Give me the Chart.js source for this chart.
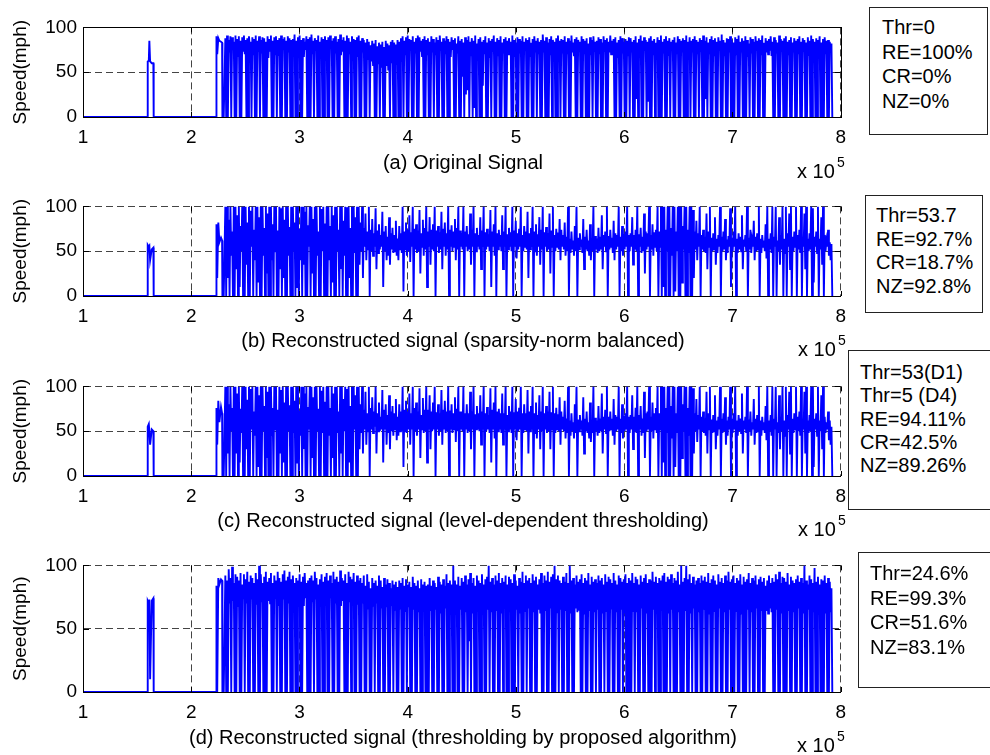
<!DOCTYPE html>
<html>
<head>
<meta charset="utf-8">
<script src="https://cdn.jsdelivr.net/npm/chart.js@4/dist/chart.umd.min.js"></script>
<style>
  html, body { margin: 0; padding: 0; background: #fff; }
  body { width: 990px; height: 755px; position: relative; overflow: hidden;
         font-family: "Liberation Sans", Arial, sans-serif; color: #000; }
  canvas { position: absolute; left: 0; }
  .cap { position: absolute; font-size: 20px; line-height: 20px; white-space: nowrap; transform: translateX(-50%); }
  .mult { position: absolute; font-size: 20px; line-height: 20px; white-space: nowrap; }
  .mult span { position: absolute; font-size: 14px; line-height: 14px; }
  .box { position: absolute; border: 1px solid #222; background: #fff; box-sizing: border-box; }
  .box div { position: absolute; font-size: 20px; line-height: 20px; white-space: nowrap; }
</style>
</head>
<body>
<canvas id="pa"></canvas>
<canvas id="pb"></canvas>
<canvas id="pc"></canvas>
<canvas id="pd"></canvas>
<script>
// ---- axis ticks ----
const xTickValues = [1, 2, 3, 4, 5, 6, 7, 8];   // time, x 10^5
const yTickValues = [0, 50, 100];               // speed (mph)

// ---- sparse lead-in section (time in units of 10^5) ----
const leadTimes = [1.0, 1.595, 1.598, 1.608, 1.613, 1.62, 1.635, 1.65, 1.653,
                   2.23, 2.233, 2.24, 2.25, 2.26, 2.275, 2.285, 2.288, 2.30];
const leadA = [0, 0, 62, 63, 85, 62, 60, 60, 0, 0, 90, 70, 88, 85, 84, 83, 0, 0];
const leadB = [0, 0, 57, 55, 56, 40, 52, 54, 0, 0, 80, 20, 82, 60, 65, 62, 0, 0];
const leadC = [0, 0, 55, 58, 50, 35, 52, 50, 0, 0, 76, 35, 84, 60, 77, 70, 0, 0];
const leadD = [0, 0, 72, 70, 73, 10, 72, 74, 0, 0, 84, 0, 90, 85, 89, 88, 0, 0];

// ---- dense section: successive highs and lows of each record ----
const denseStart = 2.315;
const denseEnd = 7.93;

const peaksA = [
  88,91,86,90,89,84,91,87,90,85,89,91,86,88,90,84,89,87,91,85,
  90,86,89,88,84,90,87,91,85,89,90,86,88,91,87,89,85,90,88,86,
  87,92,85,89,91,86,88,84,90,87,89,92,85,88,86,91,84,89,87,90,
  86,89,91,85,88,90,84,87,92,86,89,85,91,88,84,90,87,86,89,91,
  85,88,86,83,87,84,80,85,82,86,79,83,81,84,78,85,82,80,84,86,
  83,81,86,84,88,90,85,89,91,87,86,90,84,88,91,89,85,87,90,86,
  88,84,90,87,83,89,86,91,84,88,85,90,87,84,89,86,88,82,90,85,
  87,83,89,86,90,84,88,85,91,82,87,89,84,86,90,83,88,85,87,91,
  84,88,86,90,83,87,89,85,88,84,91,86,83,89,87,85,90,84,88,86,
  89,83,87,90,85,88,84,86,92,85,89,83,87,90,86,84,88,91,85,87,
  86,90,84,88,85,91,83,87,89,86,84,90,87,85,88,82,89,86,90,84,
  85,89,87,83,90,86,88,84,91,85,87,89,83,86,90,88,84,87,85,89,
  88,84,86,90,83,87,91,85,89,86,84,88,90,85,87,83,89,86,91,84,
  87,90,85,88,84,86,89,83,90,87,85,88,86,91,84,89,85,87,90,86,
  84,88,86,91,85,89,83,87,90,86,88,84,89,85,92,86,83,88,87,90,
  86,83,89,87,91,84,88,85,90,86,82,89,87,84,90,85,88,86,91,83,
  88,85,87,90,84,89,86,83,91,87,85,88,90,84,86,89,83,88,85,87,
  90,84,88,86,83,89,85,91,87,84,88,86,90,83,87,89,85,86,84,82];
const troughsA = [
  0,0,72,0,75,0,0,68,0,0,74,70,0,0,76,0,69,0,0,73,
  0,71,0,0,0,66,74,0,0,70,0,68,0,0,75,0,0,72,0,0,
  69,0,0,73,0,0,67,75,0,0,0,70,0,74,0,0,68,0,0,72,
  0,0,76,0,0,71,0,0,69,73,0,0,0,70,0,75,0,0,67,0,
  0,72,0,0,65,0,62,58,0,0,60,0,55,0,0,57,52,0,60,0,
  0,58,0,0,62,0,70,0,0,74,0,0,71,0,0,73,68,0,0,70,
  0,0,72,0,69,0,0,74,0,0,70,0,0,67,75,0,0,71,0,0,
  45,0,25,30,0,68,0,10,0,72,0,0,35,70,0,0,66,0,73,0,
  0,69,0,0,72,0,0,70,74,0,0,67,0,0,71,0,0,75,0,0,
  68,0,0,73,0,70,0,0,72,0,0,0,69,0,74,0,0,66,0,71,
  0,0,70,0,0,72,68,0,0,74,0,0,71,0,0,0,69,0,73,0,
  0,70,0,0,73,0,0,72,70,74,0,0,66,0,0,71,0,0,69,0,
  72,0,0,20,0,70,0,0,74,0,17,0,0,69,0,72,0,0,0,71,
  0,0,68,0,74,0,0,70,0,0,73,0,0,0,67,0,72,0,0,70,
  0,73,0,0,20,0,71,0,0,69,0,0,74,0,0,68,0,0,72,0,
  0,0,70,0,0,73,0,0,0,67,0,71,0,0,74,0,0,69,0,0,
  72,70,74,68,0,0,71,0,0,73,0,0,0,69,0,0,72,0,0,70,
  0,0,73,0,0,68,0,0,71,0,0,74,0,0,0,70,0,0,72,0];

const peaksB = [
  100,100,85,100,72,100,100,90,100,78,100,100,100,82,100,95,100,74,100,100,
  88,100,100,76,100,92,100,100,80,100,100,73,100,98,100,85,100,100,77,100,
  100,82,100,100,75,100,100,94,100,79,100,100,86,100,100,72,100,97,100,81,
  100,100,78,100,90,100,100,74,100,100,84,100,99,100,76,100,100,88,100,100,
  82,100,76,92,72,100,74,86,70,98,73,80,68,94,72,78,66,88,70,76,
  68,84,64,78,70,100,72,82,74,90,71,100,75,80,73,96,70,85,76,100,
  72,88,74,80,100,73,78,71,94,75,82,70,100,74,79,72,86,76,100,73,
  70,100,72,78,69,92,74,100,70,76,68,88,73,100,71,75,69,96,72,80,
  100,70,74,68,90,72,100,69,76,71,100,73,84,70,75,100,68,78,72,94,
  70,76,100,72,80,69,88,74,100,71,77,70,92,73,100,68,75,71,86,74,
  68,82,66,100,64,72,62,78,100,65,70,63,86,66,74,62,80,64,100,67,
  64,76,66,90,68,72,100,67,74,65,84,70,68,100,66,78,69,72,100,68,
  70,88,68,74,100,69,76,66,92,72,70,100,68,80,71,74,100,72,100,100,
  100,74,100,100,76,100,100,72,100,100,100,78,100,100,74,100,100,96,72,84,
  70,100,68,74,66,92,72,100,65,70,88,64,68,100,66,72,86,63,67,98,
  65,72,100,64,70,66,90,63,68,100,65,74,62,84,66,70,100,64,68,62,
  80,100,64,70,100,66,100,62,88,68,100,64,100,70,92,100,66,72,100,68,
  74,100,66,92,100,64,70,100,98,66,72,100,64,88,100,68,62,74,60,58];
const troughsB = [
  0,20,0,45,0,0,30,0,10,50,0,0,35,0,0,55,0,40,0,15,
  0,0,45,0,25,0,0,40,0,50,0,0,30,0,20,0,0,45,0,0,
  50,0,10,0,40,0,35,0,0,55,0,25,0,0,45,0,0,50,0,0,
  0,40,0,15,0,0,50,0,30,0,45,0,0,20,0,0,48,0,0,35,
  50,20,55,40,52,0,50,45,55,30,48,52,55,10,50,40,45,35,52,48,
  50,45,40,52,48,5,52,45,50,38,55,0,52,48,50,25,55,45,52,10,
  55,35,52,50,0,55,48,52,30,55,45,52,0,55,50,55,40,52,0,55,
  52,0,55,50,52,35,55,0,50,55,52,30,55,0,52,55,50,10,55,45,
  0,52,55,50,30,55,0,52,55,50,0,55,42,52,55,0,50,55,52,20,
  52,55,0,50,45,55,35,52,0,55,50,52,25,55,0,50,55,52,40,55,
  52,45,50,0,48,52,45,50,0,52,55,48,30,52,50,45,40,50,0,52,
  48,50,52,30,55,50,0,52,55,48,40,52,55,0,50,45,52,55,0,50,
  55,35,52,50,0,55,48,50,25,52,55,0,52,45,55,50,0,55,0,10,
  0,50,0,0,45,0,5,50,0,0,15,52,0,0,48,0,0,20,52,40,
  55,0,52,50,48,30,55,0,50,52,35,48,55,0,50,52,40,48,55,10,
  50,55,0,48,52,50,30,55,50,0,52,48,55,40,50,52,0,48,55,50,
  42,0,52,48,0,55,0,50,35,52,0,48,0,55,30,0,50,55,0,52,
  48,0,55,30,0,50,52,0,15,55,48,0,52,35,0,50,55,45,40,0];

const peaksC = [
  100,100,80,100,76,100,100,92,100,75,100,100,100,85,100,97,100,72,100,100,
  90,100,100,78,100,94,100,100,76,100,100,74,100,96,100,82,100,100,79,100,
  100,84,100,100,73,100,100,92,100,77,100,100,88,100,100,75,100,95,100,83,
  100,100,76,100,92,100,100,72,100,100,86,100,97,100,78,100,100,90,100,100,
  80,100,74,94,70,100,76,88,72,100,70,82,66,96,74,80,68,90,72,78,
  70,86,66,80,72,100,74,84,72,92,70,100,76,82,72,98,68,87,74,100,
  74,90,72,82,100,71,80,70,96,74,84,72,100,73,80,70,88,75,100,72,
  72,100,70,80,70,94,72,100,69,78,70,90,72,100,70,77,68,98,74,82,
  100,72,75,70,92,70,100,68,78,72,100,71,86,72,76,100,70,80,70,96,
  72,78,100,70,82,68,90,72,100,70,78,72,94,71,100,70,76,69,88,72,
  66,84,64,100,62,70,60,80,100,63,68,62,88,64,72,60,82,62,100,65,
  62,78,64,92,66,74,100,66,72,64,86,68,66,100,64,80,67,70,100,66,
  68,90,66,76,100,68,78,64,94,70,72,100,66,82,70,76,100,70,100,100,
  100,76,100,100,78,100,100,70,100,100,100,80,100,100,76,100,100,98,70,86,
  68,100,66,72,64,94,70,100,63,68,90,62,66,100,64,70,88,62,66,100,
  64,70,100,62,68,64,92,62,66,100,63,72,60,86,64,68,100,62,66,60,
  78,100,62,68,100,64,100,60,90,66,100,62,100,68,94,100,64,70,100,66,
  72,100,64,94,100,62,68,100,100,64,70,100,62,90,100,66,60,72,62,55];
const troughsC = [
  0,25,0,50,0,0,25,0,15,48,0,0,30,0,0,52,0,45,0,10,
  0,0,50,0,20,0,0,45,0,52,0,0,25,0,15,0,0,50,0,0,
  48,0,15,0,45,0,30,0,0,52,0,20,0,0,50,0,0,48,0,0,
  0,45,0,20,0,0,48,0,25,0,50,0,0,15,0,0,52,0,0,30,
  48,25,52,35,50,0,52,48,55,25,50,50,52,15,52,35,48,30,50,45,
  52,40,45,50,50,10,50,48,52,35,52,0,50,45,52,20,52,48,50,15,
  52,30,50,52,0,52,45,50,35,52,48,50,0,52,48,52,38,50,0,52,
  50,0,52,48,50,30,52,0,52,52,50,35,52,0,50,52,48,15,52,42,
  0,50,52,48,35,52,0,50,52,48,0,52,40,50,52,0,48,52,50,25,
  50,52,0,48,42,52,30,50,0,52,48,50,30,52,0,48,52,50,35,52,
  50,42,48,0,45,50,42,48,0,50,52,45,25,50,48,42,38,48,0,50,
  45,48,50,25,52,48,0,50,52,45,35,50,52,0,48,42,50,52,0,48,
  52,30,50,48,0,52,45,48,20,50,52,0,50,42,52,48,0,52,0,15,
  0,48,0,0,42,0,10,48,0,0,20,50,0,0,45,0,0,25,50,38,
  52,0,50,48,45,25,52,0,48,50,30,45,52,0,48,50,35,45,52,0,
  48,52,0,45,50,48,25,52,48,0,50,45,52,35,48,50,0,45,52,48,
  40,0,50,45,0,52,0,48,30,50,0,45,0,52,25,0,48,52,0,50,
  45,0,52,25,0,48,50,0,10,52,45,0,50,30,0,48,52,40,35,0];

const peaksD = [
  92,88,97,90,99,86,93,91,88,94,85,93,89,95,87,92,90,86,94,89,
  100,93,86,91,95,87,90,94,86,92,88,95,90,87,93,96,88,91,95,89,
  92,86,90,88,93,87,91,94,86,88,90,92,88,95,90,85,89,93,87,91,
  94,88,92,86,95,89,91,87,96,90,88,93,86,95,91,89,94,87,92,88,
  90,86,92,84,93,87,82,90,86,88,84,92,88,83,90,85,89,86,82,88,
  85,87,83,88,86,90,84,89,85,87,83,91,86,84,88,82,89,85,87,84,
  85,90,84,88,86,83,91,87,85,89,84,93,86,88,85,100,88,85,91,84,
  90,87,92,85,89,94,86,90,84,92,88,86,93,85,89,91,100,87,90,85,
  92,88,94,86,90,87,92,85,91,89,86,93,88,84,90,87,95,86,92,88,
  90,86,93,88,91,85,89,94,86,92,88,95,87,91,93,100,89,92,88,86,
  91,87,94,86,100,88,90,85,92,87,89,93,86,90,88,94,85,91,87,89,
  86,92,88,90,85,93,87,91,89,86,94,88,85,92,90,87,89,93,86,90,
  88,94,86,91,89,85,92,87,90,93,86,89,88,95,87,91,86,90,88,92,
  94,87,91,89,93,86,90,88,95,85,100,87,90,100,89,93,86,91,85,88,
  90,86,92,88,91,87,94,86,89,92,88,85,93,87,90,86,92,88,95,87,
  89,92,86,90,88,93,85,91,87,89,94,86,90,88,92,85,89,91,87,90,
  84,88,92,86,90,87,93,89,95,86,91,90,87,94,85,91,88,86,89,92,
  87,90,86,100,88,85,92,89,86,98,87,91,85,89,88,92,86,90,87,82];
const troughsD = [
  0,0,70,0,72,0,0,68,0,0,74,0,70,0,0,73,0,0,69,0,
  0,71,0,0,0,72,70,0,0,74,0,68,0,0,73,0,0,70,0,0,
  72,0,0,70,0,0,68,74,0,0,0,71,0,73,0,0,69,0,0,72,
  0,0,74,0,0,70,0,0,68,72,0,0,0,71,0,73,0,0,69,0,
  0,70,0,0,66,0,0,68,0,70,0,0,66,0,0,67,0,0,68,0,
  65,0,0,66,0,0,64,0,67,0,0,65,0,0,63,0,0,66,0,0,
  0,64,0,0,65,0,0,62,0,0,66,0,0,64,0,0,63,0,0,65,
  0,0,63,0,40,0,62,0,0,66,0,0,64,0,0,65,0,63,0,0,
  64,0,0,62,0,66,0,0,63,0,0,0,65,0,62,0,0,64,0,66,
  0,0,63,0,0,65,62,0,0,64,0,0,66,0,0,0,63,0,65,0,
  0,64,0,0,62,0,0,66,63,65,0,0,62,0,0,64,0,0,63,0,
  65,0,0,62,0,64,0,0,66,0,0,63,0,0,65,0,62,0,0,0,
  0,64,0,63,0,0,66,0,0,62,0,0,0,65,0,63,0,0,64,0,
  0,0,62,0,65,0,0,0,63,0,0,0,64,0,0,62,0,66,0,0,
  63,0,0,65,0,0,62,0,0,64,0,0,66,0,0,63,0,0,65,0,
  0,0,64,0,0,62,0,0,0,65,0,63,0,0,66,0,0,64,0,0,
  64,62,66,63,0,0,65,0,0,62,0,0,0,64,0,0,63,0,0,66,
  0,0,62,0,0,65,0,0,63,0,0,64,0,0,0,62,0,0,63,0];

// ---- per-panel annotation text ----
const captions = [
  '(a) Original Signal',
  '(b) Reconstructed signal (sparsity-norm balanced)',
  '(c) Reconstructed signal (level-dependent thresholding)',
  '(d) Reconstructed signal (thresholding by proposed algorithm)'
];
const statsA = ['Thr=0', 'RE=100%', 'CR=0%', 'NZ=0%'];
const statsB = ['Thr=53.7', 'RE=92.7%', 'CR=18.7%', 'NZ=92.8%'];
const statsC = ['Thr=53(D1)', 'Thr=5 (D4)', 'RE=94.11%', 'CR=42.5%', 'NZ=89.26%'];
const statsD = ['Thr=24.6%', 'RE=99.3%', 'CR=51.6%', 'NZ=83.1%'];

// Assemble the (time, speed) series: lead-in, then alternating highs and lows.
function buildSignal(lead, peaks, troughs) {
  const pts = leadTimes.map((t, i) => ({ x: t, y: lead[i] }));
  const step = (denseEnd - denseStart) / peaks.length;
  peaks.forEach((p, i) => {
    const t = denseStart + i * step;
    pts.push({ x: t, y: p });
    pts.push({ x: t + step / 2, y: troughs[i] });
  });
  return pts;
}

const FONT = '"Liberation Sans", Arial, sans-serif';
const PLOT_LEFT = 83, PLOT_RIGHT = 845, PAD_TOP = 14, X_AXIS_H = 40;

// Inner tick marks along the frame, and a solid frame where requested.
const framePlugin = {
  id: 'frame',
  afterDraw(chart, args, opts) {
    const { ctx, chartArea: a, scales } = chart;
    ctx.save();
    ctx.strokeStyle = '#000';
    ctx.lineWidth = 1;
    ctx.beginPath();
    xTickValues.forEach(v => {
      const px = Math.round(scales.x.getPixelForValue(v)) + 0.5;
      ctx.moveTo(px, a.top); ctx.lineTo(px, a.top + 5);
      ctx.moveTo(px, a.bottom); ctx.lineTo(px, a.bottom - 5);
    });
    yTickValues.forEach(v => {
      const py = Math.round(scales.y.getPixelForValue(v)) + 0.5;
      ctx.moveTo(a.left, py); ctx.lineTo(a.left + 6, py);
      ctx.moveTo(a.right, py); ctx.lineTo(a.right - 6, py);
    });
    ctx.stroke();
    if (opts.solid) {
      ctx.strokeRect(Math.round(a.left) + 0.5, Math.round(a.top) + 0.5,
                     Math.round(a.right - a.left), Math.round(a.bottom - a.top));
    }
    ctx.restore();
  }
};

function makePanel(id, plotTop, plotBottom, points, solidFrame) {
  const canvas = document.getElementById(id);
  const h = PAD_TOP + (plotBottom - plotTop) + X_AXIS_H;
  canvas.width = PLOT_RIGHT + 10;
  canvas.height = h;
  canvas.style.top = (plotTop - PAD_TOP) + 'px';
  canvas.style.width = canvas.width + 'px';
  canvas.style.height = h + 'px';

  const gridStyle = { color: '#444', lineWidth: 1, drawTicks: false };
  const borderStyle = { display: true, color: '#000', width: 1, dash: [7, 4] };

  new Chart(canvas, {
    type: 'line',
    data: {
      datasets: [{
        data: points,
        borderColor: '#0000ff',
        borderWidth: 1.9,
        pointRadius: 0,
        tension: 0,
        fill: false
      }]
    },
    options: {
      responsive: false,
      animation: false,
      devicePixelRatio: 1,
      layout: { padding: { top: PAD_TOP, right: 10, left: 0, bottom: 0 } },
      plugins: { legend: { display: false }, tooltip: { enabled: false }, frame: { solid: solidFrame } },
      scales: {
        x: {
          type: 'linear', min: 1, max: 8,
          afterFit(s) { s.height = X_AXIS_H; },
          afterBuildTicks(s) { s.ticks = xTickValues.map(v => ({ value: v })); },
          ticks: { color: '#000', font: { family: FONT, size: 19 }, padding: 9, maxRotation: 0,
                   callback: v => String(v) },
          grid: gridStyle,
          border: borderStyle
        },
        y: {
          min: 0, max: 100,
          afterFit(s) { s.width = PLOT_LEFT; },
          afterBuildTicks(s) { s.ticks = yTickValues.map(v => ({ value: v })); },
          ticks: { color: '#000', font: { family: FONT, size: 19 }, padding: 6,
                   callback: v => String(v) },
          grid: gridStyle,
          border: borderStyle,
          title: { display: true, text: 'Speed(mph)', color: '#000',
                   font: { family: FONT, size: 19 }, padding: { top: 9, bottom: 0 } }
        }
      }
    },
    plugins: [framePlugin]
  });
}

makePanel('pa', 24, 117, buildSignal(leadA, peaksA, troughsA), true);
makePanel('pb', 203, 296, buildSignal(leadB, peaksB, troughsB), false);
makePanel('pc', 383, 476, buildSignal(leadC, peaksC, troughsC), false);
makePanel('pd', 562, 692, buildSignal(leadD, peaksD, troughsD), false);

// Captions, exponent markers and stats boxes.
function addCaption(text, cy) {
  const d = document.createElement('div');
  d.className = 'cap';
  d.textContent = text;
  d.style.left = '463px';
  d.style.top = (cy - 10) + 'px';
  document.body.appendChild(d);
}
function addMultiplier(x, cy) {
  const d = document.createElement('div');
  d.className = 'mult';
  d.style.left = x + 'px';
  d.style.top = (cy - 10) + 'px';
  d.textContent = 'x 10';
  const s = document.createElement('span');
  s.textContent = '5';
  s.style.left = '40px';
  s.style.top = '-6px';
  d.appendChild(s);
  document.body.appendChild(d);
}
function addStats(lines, left, top, right, bottom, textLeft, firstY, spacing) {
  const b = document.createElement('div');
  b.className = 'box';
  b.style.left = left + 'px';
  b.style.top = top + 'px';
  b.style.width = (right - left) + 'px';
  b.style.height = (bottom - top) + 'px';
  lines.forEach((t, i) => {
    const l = document.createElement('div');
    l.textContent = t;
    l.style.left = (textLeft - left - 1) + 'px';
    l.style.top = (firstY + i * spacing - 10 - top - 1) + 'px';
    b.appendChild(l);
  });
  document.body.appendChild(b);
}

addCaption(captions[0], 162);
addCaption(captions[1], 340);
addCaption(captions[2], 520);
addCaption(captions[3], 737);

addMultiplier(797, 171);
addMultiplier(798, 349);
addMultiplier(798, 529);
addMultiplier(797, 745);

addStats(statsA, 869, 7, 988, 135, 882, 27, 24.5);
addStats(statsB, 865, 195, 983, 313, 876, 215, 23.5);
addStats(statsC, 848, 350, 992, 510, 860, 372, 23.3);
addStats(statsD, 858, 552, 992, 688, 870, 573, 24.7);
</script>
</body>
</html>
